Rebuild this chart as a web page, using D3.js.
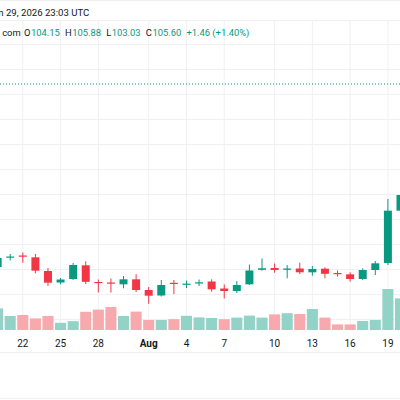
<!DOCTYPE html>
<html lang="en">
<head>
<meta charset="UTF-8">
<script src="https://d3js.org/d3.v7.min.js"></script>
<style>
  body { margin: 0; background: #fff; }
  svg { display: block; }
</style>
</head>
<body>
<div id="chart"></div>
<script>
    // daily bars, index 0 = Jul 22 (first two bars are cut off at the left edge)
    var barIdx = d3.range(-2, 31);
    var opens  = [76.32, 77.84, 78.16, 77.87, 75.68, 73.84, 74.40, 76.59, 73.92, 73.84, 73.55, 74.35, 72.64, 71.76, 73.79, 73.54, 73.76,
                  74.00, 72.88, 72.48, 73.55, 75.87, 76.16, 75.87, 76.08, 75.47, 76.05, 75.36, 75.15, 74.40, 75.84, 76.96, 85.33];
    var highs  = [78.24, 78.40, 78.64, 78.40, 76.16, 74.56, 76.96, 77.23, 74.32, 74.48, 74.88, 75.15, 73.12, 74.24, 74.24, 74.16, 74.32,
                  74.35, 73.52, 74.08, 76.72, 77.68, 76.88, 76.64, 77.01, 76.48, 76.27, 75.76, 75.47, 76.11, 77.28, 87.20, 88.32];
    var lows   = [76.16, 77.36, 77.01, 75.31, 73.28, 73.55, 74.24, 73.60, 72.24, 72.24, 72.91, 72.32, 70.45, 71.60, 72.00, 72.96, 73.28,
                  72.37, 71.28, 72.16, 73.44, 75.73, 75.41, 74.51, 75.20, 74.93, 74.51, 74.77, 73.97, 74.24, 75.04, 76.64, 84.11];
    var closes = [77.76, 78.00, 78.00, 75.73, 73.81, 74.32, 76.64, 73.95, 73.76, 73.73, 74.35, 72.64, 71.73, 73.44, 73.66, 73.66, 73.87,
                  72.75, 72.48, 73.44, 75.76, 76.11, 75.84, 76.08, 75.47, 76.00, 75.23, 75.20, 74.40, 75.84, 76.91, 85.33, 87.84];
    var volumes = [5.4, 3.5, 3.75, 2.9, 3.5, 1.8, 2.2, 4.55, 5.1, 5.75, 3.5, 4.6, 2.5, 2.5, 2.7, 3.55, 3.15,
                   3.0, 2.7, 3.1, 3.6, 3.1, 3.9, 4.2, 4.0, 5.25, 3.1, 1.4, 1.4, 2.25, 2.5, 10.25, 7.9];
    var volUp   = [1, 1, 0, 0, 0, 1, 1, 0, 0, 0, 1, 0, 0, 1, 0, 1, 1,
                   1, 0, 1, 1, 1, 0, 1, 0, 1, 0, 0, 0, 1, 1, 1, 1];

    var tickIdx  = [0, 3, 6, 10, 13, 16, 20, 23, 26, 29];
    var tickText = ["22", "25", "28", "Aug", "4", "7", "10", "13", "16", "19"];
    var priceGrid = d3.range(68, 113, 4);

    var titleText = "n 29, 2026 23:03 UTC";
    var sourceText = "com";
    var legendKeys = ["O", "H", "L", "C"];
    var legendVals = [104.15, 105.88, 103.03, 105.60];
    var changeText = "+1.46 (+1.40%)";
    var lastPrice = 105.60;

    var W = 400, H = 400;
    var paneTop = 20, paneBottom = 330;
    var up = "#089981", down = "#f23645";
    var upVol = "#93d2c7", downVol = "#f8a9ad";
    var gridColor = "#eff0f3", textColor = "#131722";
    var font = "Roboto, 'Noto Sans', sans-serif";

    var x = d3.scaleLinear().domain([0, 29]).range([22.8, 387.9]);
    var step = x(1) - x(0);
    var y = d3.scaleLinear().domain([68, 112]).range([319, 44]);
    var yVol = d3.scaleLinear().domain([0, 12]).range([paneBottom, 282]);

    var svg = d3.select("#chart").append("svg")
        .attr("width", W).attr("height", H);

    svg.append("rect").attr("width", W).attr("height", H).attr("fill", "#fff");

    // frame lines
    [0.5, paneTop + 0.5, 352.5, 398.5].forEach(function(v) {
        svg.append("line").attr("x1", 0).attr("x2", W).attr("y1", v).attr("y2", v)
            .attr("stroke", gridColor).attr("stroke-width", 1);
    });

    // grid
    var grid = svg.append("g");
    grid.selectAll(".hg").data(priceGrid).enter().append("line")
        .attr("x1", 0).attr("x2", W)
        .attr("y1", function(d) { return Math.round(y(d)) + 0.5; })
        .attr("y2", function(d) { return Math.round(y(d)) + 0.5; })
        .attr("stroke", gridColor);
    grid.selectAll(".vg").data(tickIdx).enter().append("line")
        .attr("x1", function(d) { return x(d); }).attr("x2", function(d) { return x(d); })
        .attr("y1", paneTop).attr("y2", paneBottom)
        .attr("stroke", gridColor);

    var bars = barIdx.map(function(d, i) {
        return {i: d, o: opens[i], h: highs[i], l: lows[i], c: closes[i], v: volumes[i], vu: volUp[i]};
    });

    // volume
    var vw = step - 1.5;
    svg.append("g").selectAll("rect").data(bars).enter().append("rect")
        .attr("x", function(d) { return x(d.i) - vw / 2; })
        .attr("width", vw)
        .attr("y", function(d) { return yVol(d.v); })
        .attr("height", function(d) { return paneBottom - yVol(d.v); })
        .attr("fill", function(d) { return d.vu ? upVol : downVol; });

    // last price line
    svg.append("line")
        .attr("x1", 0).attr("x2", W)
        .attr("y1", y(lastPrice)).attr("y2", y(lastPrice))
        .attr("stroke", up).attr("stroke-width", 1)
        .attr("stroke-dasharray", "1,2");

    // candles
    var bw = 8;
    var candle = svg.append("g").selectAll("g").data(bars).enter().append("g");
    candle.append("line")
        .attr("x1", function(d) { return x(d.i); }).attr("x2", function(d) { return x(d.i); })
        .attr("y1", function(d) { return y(d.h); }).attr("y2", function(d) { return y(d.l); })
        .attr("stroke", function(d) { return d.c >= d.o ? up : down; })
        .attr("stroke-width", 1);
    candle.append("rect")
        .attr("x", function(d) { return x(d.i) - bw / 2; })
        .attr("width", bw)
        .attr("y", function(d) { return y(Math.max(d.o, d.c)); })
        .attr("height", function(d) { return Math.max(1.2, Math.abs(y(d.o) - y(d.c))); })
        .attr("fill", function(d) { return d.c >= d.o ? up : down; });

    // time axis labels
    svg.append("g").selectAll("text").data(tickIdx).enter().append("text")
        .attr("x", function(d) { return x(d); })
        .attr("y", 346.5)
        .attr("text-anchor", "middle")
        .attr("font-family", font)
        .attr("font-size", 10)
        .attr("font-weight", function(d, i) { return tickText[i] === "Aug" ? 700 : 400; })
        .attr("fill", textColor)
        .text(function(d, i) { return tickText[i]; });

    // header (left part is cut by the picture edge, as in the source)
    svg.append("text")
        .attr("x", 89.3).attr("y", 15.5)
        .attr("text-anchor", "end")
        .attr("font-family", font).attr("font-size", 9.6)
        .attr("fill", textColor)
        .text(titleText);

    var legend = svg.append("g")
        .attr("font-family", font).attr("font-size", 9.4);
    legend.append("text")
        .attr("x", 20.7).attr("y", 35.5).attr("text-anchor", "end")
        .attr("fill", textColor).text(sourceText);

    var cx = 24;
    function put(str, color, gap) {
        var t = legend.append("text").attr("x", cx).attr("y", 35.5)
            .attr("fill", color).text(str);
        cx += t.node().getComputedTextLength() + gap;
    }
    legendKeys.forEach(function(k, i) {
        put(k, textColor, 0.5);
        put(legendVals[i].toFixed(2), up, 5.2);
    });
    put(changeText, up, 0);
</script>
</body>
</html>
